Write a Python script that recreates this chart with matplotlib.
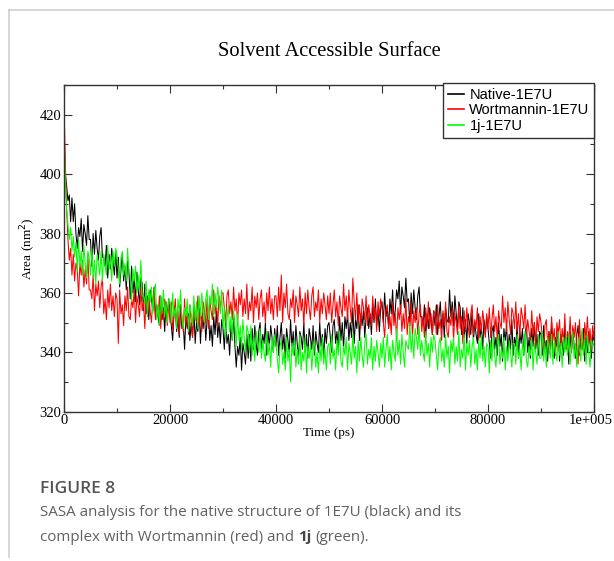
import numpy as np
import matplotlib.pyplot as plt
from matplotlib.lines import Line2D
from matplotlib.transforms import ScaledTranslation

# SASA traces, one sample every 250 ps from 0 to 100000 ps (values in nm^2)
step_ps = 250

native = [
    412, 400, 396, 391, 393, 384, 392, 384, 390, 380, 375, 382, 379, 385, 374, 383, 380, 376, 386, 378,
    378, 369, 380, 373, 381, 375, 371, 379, 382, 372, 372, 369, 376, 365, 373, 368, 375, 371, 366, 374,
    365, 372, 362, 368, 373, 364, 369, 361, 371, 367, 358, 369, 360, 365, 357, 367, 361, 356, 365, 363,
    354, 363, 353, 359, 351, 361, 358, 354, 362, 352, 356, 352, 349, 359, 351, 355, 347, 357, 352, 358,
    354, 349, 344, 353, 355, 347, 351, 345, 356, 348, 350, 341, 352, 348, 353, 344, 350, 345, 355, 343,
    350, 347, 355, 343, 352, 348, 353, 344, 351, 354, 344, 349, 342, 352, 346, 354, 345, 350, 343, 351,
    348, 341, 351, 343, 346, 339, 349, 344, 352, 342, 335, 342, 339, 345, 334, 343, 340, 336, 346, 338,
    346, 337, 348, 341, 349, 343, 339, 347, 350, 340, 346, 343, 350, 339, 347, 342, 349, 345, 340, 348,
    342, 349, 339, 345, 350, 341, 346, 338, 348, 344, 340, 351, 342, 347, 339, 349, 343, 338, 347, 345,
    341, 350, 340, 346, 338, 348, 345, 341, 349, 339, 347, 343, 340, 350, 342, 346, 338, 348, 343, 349,
    350, 345, 340, 349, 351, 343, 347, 341, 352, 344, 350, 341, 352, 348, 353, 344, 350, 345, 355, 343,
    351, 348, 356, 344, 353, 349, 354, 345, 352, 355, 348, 353, 346, 356, 350, 358, 349, 354, 347, 355,
    357, 350, 360, 352, 355, 348, 358, 353, 361, 351, 354, 361, 358, 364, 353, 362, 359, 355, 365, 357,
    358, 349, 360, 353, 361, 355, 351, 359, 362, 352, 352, 349, 356, 345, 353, 348, 355, 351, 346, 354,
    349, 356, 346, 352, 357, 348, 353, 345, 355, 351, 350, 361, 352, 357, 349, 359, 353, 348, 357, 355,
    346, 355, 345, 351, 343, 353, 350, 346, 354, 344, 350, 346, 343, 353, 345, 349, 341, 351, 346, 352,
    348, 343, 338, 347, 349, 341, 345, 339, 350, 342, 346, 337, 348, 344, 349, 340, 346, 341, 351, 339,
    345, 342, 350, 338, 347, 343, 348, 339, 346, 349, 340, 345, 338, 348, 342, 350, 341, 346, 339, 347,
    346, 339, 349, 341, 344, 337, 347, 342, 350, 340, 338, 345, 342, 348, 337, 346, 343, 339, 349, 341,
    345, 336, 347, 340, 348, 342, 338, 346, 349, 339, 344, 341, 348, 337, 345, 340, 347, 343, 338, 346,
    344,
]

wortmannin = [
    423, 404, 388, 378, 371, 375, 366, 373, 364, 370, 368, 359, 370, 366, 371, 362, 368, 363, 373, 361,
    361, 358, 366, 354, 363, 359, 364, 355, 362, 365, 353, 358, 351, 361, 355, 363, 354, 359, 352, 360,
    358, 343, 361, 353, 356, 349, 359, 354, 362, 352, 351, 358, 355, 361, 350, 359, 356, 352, 362, 354,
    357, 348, 359, 352, 360, 354, 350, 358, 361, 351, 355, 352, 359, 348, 356, 351, 358, 354, 349, 357,
    350, 357, 347, 353, 358, 349, 354, 346, 356, 352, 347, 358, 349, 354, 346, 356, 350, 345, 354, 352,
    350, 359, 349, 355, 347, 357, 354, 350, 358, 348, 358, 354, 351, 361, 353, 357, 349, 359, 354, 360,
    360, 355, 350, 359, 361, 353, 357, 351, 362, 354, 358, 349, 360, 356, 361, 352, 358, 353, 363, 351,
    357, 354, 362, 350, 359, 355, 360, 351, 358, 361, 352, 357, 350, 360, 354, 362, 353, 358, 351, 359,
    359, 352, 362, 354, 366, 350, 360, 355, 363, 353, 351, 358, 355, 361, 350, 359, 356, 352, 362, 354,
    358, 349, 360, 353, 361, 355, 351, 359, 362, 352, 357, 354, 361, 350, 358, 353, 360, 356, 351, 359,
    353, 360, 350, 356, 361, 352, 357, 349, 359, 355, 352, 363, 354, 359, 351, 361, 355, 350, 365, 357,
    351, 360, 350, 356, 348, 358, 355, 351, 359, 349, 356, 352, 349, 359, 351, 355, 347, 357, 352, 358,
    355, 350, 345, 354, 356, 348, 352, 346, 357, 349, 353, 344, 355, 351, 356, 347, 353, 348, 358, 346,
    352, 349, 357, 345, 354, 350, 355, 346, 353, 356, 347, 352, 345, 355, 349, 357, 348, 353, 346, 354,
    353, 346, 356, 348, 351, 344, 354, 349, 357, 347, 345, 352, 349, 355, 344, 353, 350, 346, 356, 348,
    352, 343, 354, 347, 355, 349, 345, 353, 356, 346, 351, 348, 355, 344, 352, 347, 354, 350, 345, 353,
    348, 355, 345, 351, 356, 347, 352, 344, 354, 350, 348, 359, 350, 355, 347, 357, 351, 346, 355, 353,
    348, 357, 347, 353, 345, 355, 352, 348, 356, 346, 351, 347, 344, 354, 346, 350, 342, 352, 347, 353,
    350, 345, 340, 349, 351, 343, 347, 341, 352, 344, 348, 339, 350, 346, 351, 342, 348, 343, 353, 341,
    347, 344, 352, 340, 349, 345, 350, 341, 336, 351, 342, 347, 340, 350, 344, 352, 343, 348, 341, 349,
    345,
]

cmpd_1j = [
    415, 398, 388, 383, 378, 382, 374, 379, 372, 377, 367, 378, 369, 374, 366, 376, 370, 365, 374, 372,
    366, 375, 365, 371, 363, 373, 370, 366, 374, 364, 373, 369, 366, 376, 368, 372, 364, 374, 369, 375,
    373, 368, 363, 372, 374, 366, 370, 364, 375, 367, 366, 357, 368, 364, 369, 360, 366, 361, 371, 359,
    359, 356, 364, 352, 361, 357, 362, 353, 360, 363, 351, 356, 349, 359, 353, 361, 352, 357, 350, 358,
    357, 350, 360, 352, 355, 348, 358, 353, 361, 351, 348, 355, 352, 358, 347, 356, 353, 349, 359, 351,
    357, 348, 359, 352, 360, 354, 350, 358, 361, 351, 359, 356, 363, 352, 360, 355, 362, 358, 353, 361,
    348, 355, 345, 351, 356, 347, 352, 344, 354, 350, 342, 353, 344, 349, 341, 351, 345, 340, 349, 347,
    340, 349, 339, 345, 337, 347, 344, 340, 348, 338, 344, 340, 337, 347, 339, 343, 335, 345, 340, 346,
    343, 338, 333, 342, 344, 336, 340, 334, 345, 337, 341, 330, 343, 339, 344, 335, 341, 336, 346, 334,
    340, 337, 345, 333, 342, 338, 343, 334, 341, 344, 335, 340, 333, 343, 337, 345, 336, 341, 334, 342,
    343, 336, 346, 338, 341, 334, 344, 339, 347, 337, 335, 342, 339, 345, 334, 343, 340, 336, 346, 338,
    342, 333, 344, 337, 345, 339, 335, 343, 346, 336, 341, 338, 345, 334, 342, 337, 344, 340, 335, 343,
    338, 345, 335, 341, 346, 337, 342, 334, 344, 340, 337, 348, 339, 344, 336, 346, 340, 335, 344, 342,
    341, 350, 340, 346, 338, 348, 345, 341, 349, 339, 344, 340, 337, 347, 339, 343, 335, 345, 340, 346,
    344, 339, 334, 343, 345, 337, 341, 335, 346, 338, 342, 333, 344, 340, 345, 336, 342, 337, 347, 335,
    341, 338, 346, 334, 343, 339, 344, 335, 342, 345, 336, 341, 334, 344, 338, 346, 337, 342, 335, 343,
    342, 333, 344, 337, 345, 339, 335, 343, 346, 336, 341, 338, 345, 334, 342, 337, 344, 340, 335, 343,
    343, 336, 346, 338, 341, 334, 344, 339, 347, 337, 335, 342, 339, 345, 334, 343, 340, 336, 346, 338,
    338, 347, 337, 343, 335, 345, 342, 338, 346, 336, 344, 340, 337, 347, 339, 343, 335, 345, 340, 346,
    339, 346, 336, 342, 347, 338, 343, 335, 345, 341, 337, 348, 339, 344, 336, 346, 340, 335, 344, 342,
    343,
]

series_labels = ['Native-1E7U', 'Wortmannin-1E7U', '1j-1E7U']
series_colors = ['#000000', '#ff0000', '#00ff00']
x_tick_labels = ['0', '20000', '40000', '60000', '80000', '1e+005']

serif = 'Liberation Serif'
sans = 'Liberation Sans'
cap_font = 'Open Sans'

fig = plt.figure(figsize=(6.14, 5.61), dpi=100)
W, H = 614, 561

# light card border on the top and left
fig.add_artist(Line2D([9 / W, 1], [1 - 10 / H, 1 - 10 / H], color='#cfcfcf', lw=1.2))
fig.add_artist(Line2D([9 / W, 9 / W], [1 - 10 / H, 1 - 557 / H], color='#cfcfcf', lw=1.2))

ax = fig.add_axes([64 / W, 1 - 411.7 / H, 530 / W, (411.7 - 85) / H])

for vals, lab, col in zip([native, wortmannin, cmpd_1j], series_labels, series_colors):
    t = np.arange(len(vals)) * step_ps
    ax.plot(t, vals, color=col, lw=0.75, label=lab)

ax.set_xlim(0, 100000)
ax.set_ylim(320, 430)
ax.set_xticks(np.arange(0, 100001, 20000))
ax.set_xticklabels(x_tick_labels)
ax.set_xticks(np.arange(0, 100001, 10000), minor=True)
ax.set_yticks(np.arange(320, 421, 20))
ax.set_yticks(np.arange(320, 431, 10), minor=True)

ax.tick_params(which='both', direction='in', top=True, right=True, color='#333333', width=0.8)
ax.tick_params(which='major', length=5.5, labelsize=10.5, pad=2)
ax.tick_params(which='minor', length=3)
for lab in ax.get_xticklabels() + ax.get_yticklabels():
    lab.set_fontfamily(serif)
# nudge the last x label so it stays inside the figure edge
last = ax.get_xticklabels()[-1]
last.set_transform(last.get_transform() + ScaledTranslation(-0.03, 0, fig.dpi_scale_trans))
for sp in ax.spines.values():
    sp.set_color('#333333')
    sp.set_linewidth(1.0)

ax.set_xlabel('Time (ps)', fontfamily=serif, fontsize=9.5, labelpad=0)
ax.set_ylabel('Area (nm$^2$)', fontfamily=serif, fontsize=9.5, labelpad=1)
ax.set_title('Solvent Accessible Surface', fontfamily=serif, fontsize=14.8, pad=21)

leg = ax.legend(loc='upper right', bbox_to_anchor=(1.0, 1.005), borderaxespad=0,
                fancybox=False, framealpha=1, edgecolor='#333333',
                prop={'family': sans, 'size': 10.5}, handlelength=1.1,
                handletextpad=0.4, labelspacing=0.12, borderpad=0.3)
leg.get_frame().set_linewidth(1.0)
for line in leg.get_lines():
    line.set_linewidth(1.2)

# figure caption
cap_col = '#606060'
fig.text(40 / W, 1 - 489 / H, 'FIGURE 8', fontfamily=cap_font, fontsize=12.5,
         fontweight='semibold', color='#555555', va='center')
fig.text(40 / W, 1 - 513 / H,
         'SASA analysis for the native structure of 1E7U (black) and its',
         fontfamily=cap_font, fontsize=10.9, color=cap_col, va='center')

parts = [('complex with Wortmannin (red) and', 'normal'), ('1j', 'bold'), ('(green).', 'normal')]
fig.canvas.draw()
renderer = fig.canvas.get_renderer()
x = 40 / W
gap = 4.2 / W
for txt, wt in parts:
    t_art = fig.text(x, 1 - 541 / H, txt, fontfamily=cap_font, fontsize=10.9,
                     fontweight=wt, color='#444444' if wt == 'bold' else cap_col,
                     va='baseline')
    bb = t_art.get_window_extent(renderer=renderer)
    x = bb.x1 / fig.bbox.width + gap

fig.savefig('out.png', dpi=100)
